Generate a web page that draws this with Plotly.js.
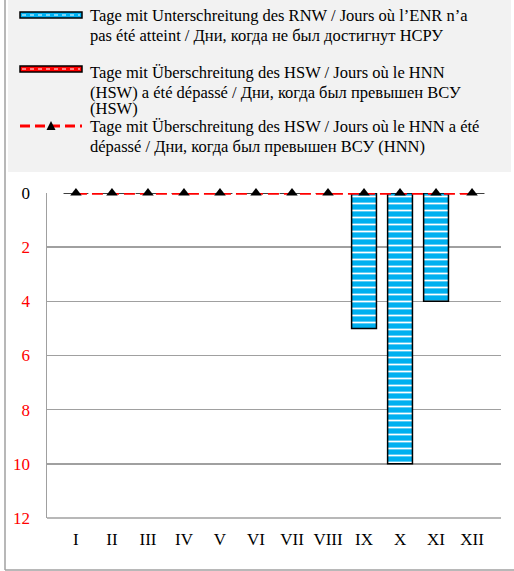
<!DOCTYPE html>
<html><head><meta charset="utf-8">
<script src="https://cdn.plot.ly/plotly-3.0.1.min.js"></script>
<style>html,body{margin:0;padding:0;background:#fff}#chart{width:514px;height:571px}</style>
</head><body><div id="chart"></div>
<script>
const months = ['I','II','III','IV','V','VI','VII','VIII','IX','X','XI','XII'];
const rnwDays = [0,0,0,0,0,0,0,0,5,10,4,0];
const hswDays = [0,0,0,0,0,0,0,0,0,0,0,0];
const hnnDays = [0,0,0,0,0,0,0,0,0,0,0,0];
const yTicks = [0,2,4,6,8,10,12];
const legendTexts = [
  ['Tage mit Unterschreitung des RNW / Jours où l’ENR n’a', 'pas été atteint / Дни, когда не был достигнут НСРУ'],
  ['Tage mit Überschreitung des HSW / Jours où le HNN', '(HSW) a été dépassé / Дни, когда был превышен ВСУ', '(HSW)'],
  ['Tage mit Überschreitung des HSW / Jours où le HNN a été', 'dépassé / Дни, когда был превышен ВСУ (HNN)']
];

const W = 514, H = 571, L = 47, R = 13, T = 193, B = 53;
const pw = W - L - R, ph = H - T - B;
const px = x => (x - L) / pw;
const py = y => (H - B - y) / ph;
const FONT = '"Times New Roman", "Liberation Serif", serif';

const traces = [
  {type:'bar', x: months, y: rnwDays, width: 0.69, name: legendTexts[0].join(' '),
   marker:{color:'#00b0f0', line:{color:'#000', width:1.5},
     pattern:{shape:'-', fgcolor:'#ffffff', bgcolor:'#00b0f0', size:7, solidity:0.25}},
   showlegend:false},
  {type:'bar', x: months, y: hswDays, width: 0.69, name: legendTexts[1].join(' '),
   marker:{color:'#ff0000', line:{color:'#000', width:0}}, showlegend:false},
  {type:'scatter', mode:'lines+markers', x: months, y: hnnDays, name: legendTexts[2].join(' '),
   line:{color:'#ff0000', width:3.5, dash:'11px,5px'},
   marker:{symbol:'triangle-up', color:'#000', size:10}, cliponaxis:false, showlegend:false}
];

const shapes = [
  {type:'rect', xref:'paper', yref:'paper', x0:px(8), x1:px(511), y0:py(0), y1:py(172),
   fillcolor:'#f2f2f2', line:{width:0}, layer:'below'},
  {type:'line', xref:'paper', yref:'paper', x0:px(5), x1:px(5), y0:py(0), y1:py(570),
   line:{color:'#a0a0a0', width:1.5}},
  {type:'line', xref:'paper', yref:'paper', x0:px(5), x1:px(514), y0:py(570), y1:py(570),
   line:{color:'#a0a0a0', width:1.5}},
  {type:'rect', xref:'paper', yref:'paper', x0:px(20), x1:px(82), y0:py(12), y1:py(18),
   fillcolor:'#00b0f0', line:{color:'#000', width:1.5}},
  {type:'line', xref:'paper', yref:'paper', x0:px(22), x1:px(80), y0:py(15), y1:py(15),
   line:{color:'#ffffff', width:1, dash:'4px,4px'}},
  {type:'rect', xref:'paper', yref:'paper', x0:px(20), x1:px(82), y0:py(66), y1:py(72),
   fillcolor:'#ff0000', line:{color:'#000', width:1.5}},
  {type:'line', xref:'paper', yref:'paper', x0:px(22), x1:px(80), y0:py(69), y1:py(69),
   line:{color:'#ffffff', width:1, dash:'4px,4px'}},
  {type:'line', xref:'paper', yref:'paper', x0:px(20), x1:px(82), y0:py(126), y1:py(126),
   line:{color:'#ff0000', width:3, dash:'10px,5px'}},
  {type:'path', xref:'paper', yref:'paper',
   path:`M ${px(46.5)} ${py(130)} L ${px(55.5)} ${py(130)} L ${px(51)} ${py(121)} Z`,
   fillcolor:'#000', line:{color:'#000', width:0}}
];

const lineY = [[16, 35], [72, 92, 109], [127, 147]];
const annotations = [];
legendTexts.forEach((lines, i) => lines.forEach((t, j) => {
  annotations.push({xref:'paper', yref:'paper', x:px(89), y:py(lineY[i][j]), xanchor:'left', yanchor:'middle',
    text:t, showarrow:false, borderpad:0, font:{family:FONT, size:16.5, color:'#000'}});
}));

const layout = {
  width: W, height: H,
  margin:{l:L, r:R, t:T, b:B, pad:0},
  paper_bgcolor:'#fff', plot_bgcolor:'#fff',
  barmode:'overlay',
  showlegend:false,
  font:{family:FONT, size:16, color:'#000'},
  xaxis:{type:'category', showgrid:false, zeroline:false, showline:false,
    ticks:'outside', ticklen:6, tickcolor:'rgba(0,0,0,0)', tickfont:{family:FONT, size:17, color:'#000'}},
  yaxis:{range:[12,0], tickvals:yTicks,
    ticktext: yTicks.map(v => v === 0 ? '0' : `<span style="color:#ff0000">${v}</span>`),
    showgrid:true, gridcolor:'#a0a0a0', gridwidth:1.5, zeroline:false,
    showline:true, linecolor:'#a0a0a0', linewidth:1.5,
    ticks:'outside', ticklen:12, tickcolor:'rgba(0,0,0,0)', tickfont:{family:FONT, size:17, color:'#000'}},
  shapes, annotations
};
layout.shapes.push({type:'line', xref:'paper', yref:'paper', x0:0, x1:1, y0:0, y1:0, line:{color:'#a0a0a0', width:1.5}});

Plotly.newPlot('chart', traces, layout, {displayModeBar:false, staticPlot:true});
</script></body></html>
